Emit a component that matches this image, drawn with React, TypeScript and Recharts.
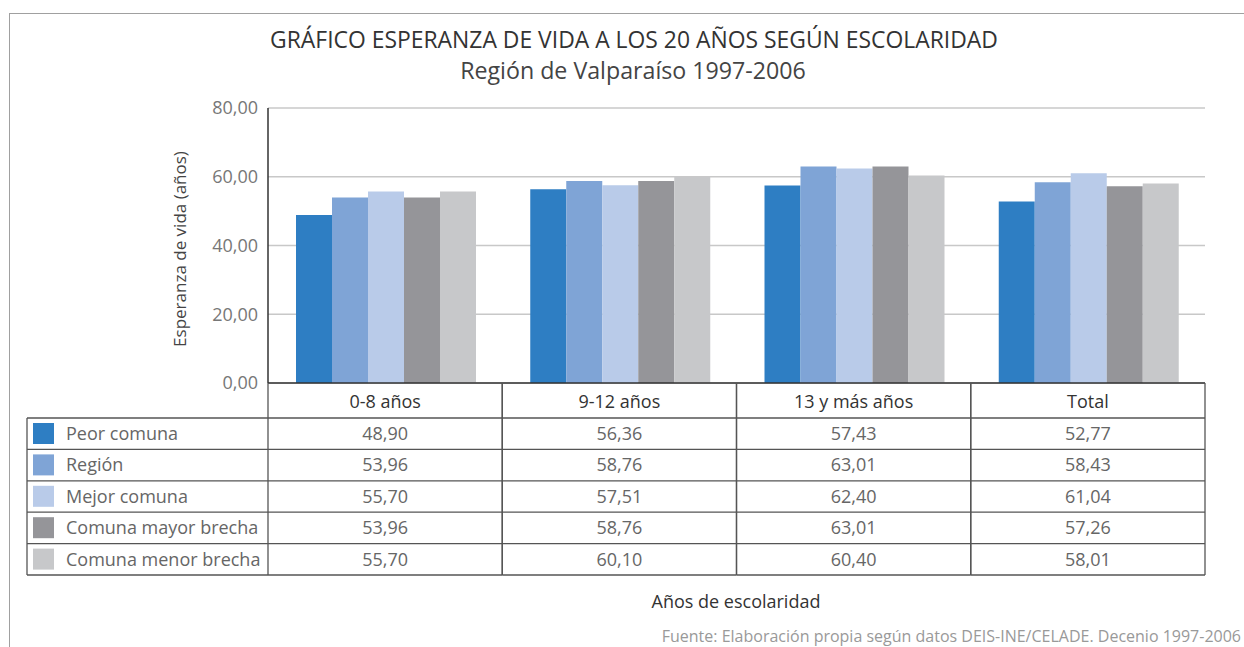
import React from 'react';
import { BarChart, Bar, XAxis, YAxis, CartesianGrid } from 'recharts';

// Datos (esperanza de vida a los 20 años)
const categories = ['0-8 años', '9-12 años', '13 y más años', 'Total'];
const peorComuna = [48.9, 56.36, 57.43, 52.77];
const region = [53.96, 58.76, 63.01, 58.43];
const mejorComuna = [55.7, 57.51, 62.4, 61.04];
const mayorBrecha = [53.96, 58.76, 63.01, 57.26];
const menorBrecha = [55.7, 60.1, 60.4, 58.01];
const yTicks = [0, 20, 40, 60, 80];

const series = [
  { key: 'peor', name: 'Peor comuna', values: peorComuna, color: '#2e7ec3' },
  { key: 'region', name: 'Región', values: region, color: '#7fa4d6' },
  { key: 'mejor', name: 'Mejor comuna', values: mejorComuna, color: '#b9cbe9' },
  { key: 'mayor', name: 'Comuna mayor brecha', values: mayorBrecha, color: '#959599' },
  { key: 'menor', name: 'Comuna menor brecha', values: menorBrecha, color: '#c7c8ca' },
];

const chartData = categories.map((cat, i) => {
  const row: any = { cat };
  series.forEach((s) => {
    row[s.key] = s.values[i];
  });
  return row;
});

const fmt = (v: number) => v.toFixed(2).replace('.', ',');

const HEADER_H = 35;
const ROW_H = 31.4;
const LEGEND_W = 241;
const LINE = '#555';

// Each x-axis tick draws its own column of the data table
const TableTick = (props: any) => {
  const { x, y, payload, index } = props;
  const half = payload.offset || 117;
  const left = x - half;
  const right = x + half;
  const bottom = y + HEADER_H + series.length * ROW_H;
  const ci = categories.indexOf(payload.value);

  return (
    <g>
      <line x1={left} y1={y} x2={left} y2={bottom} stroke={LINE} strokeWidth={1.3} />
      <line x1={right} y1={y} x2={right} y2={bottom} stroke={LINE} strokeWidth={1.3} />
      <text x={x} y={y + 25} textAnchor="middle" fontSize={18} fill="#333">
        {payload.value}
      </text>
      {series.map((s, i) => {
        const top = y + HEADER_H + i * ROW_H;
        return (
          <g key={s.key}>
            <line x1={left} y1={top} x2={right} y2={top} stroke={LINE} strokeWidth={1.3} />
            <text x={x} y={top + 22} textAnchor="middle" fontSize={18} fill="#666">
              {fmt(s.values[ci])}
            </text>
          </g>
        );
      })}
      <line x1={left} y1={bottom} x2={right} y2={bottom} stroke={LINE} strokeWidth={1.3} />
      {index === 0 && (
        <g>
          <line x1={left - LEGEND_W} y1={y + HEADER_H} x2={left - LEGEND_W} y2={bottom} stroke={LINE} strokeWidth={1.3} />
          {series.map((s, i) => {
            const top = y + HEADER_H + i * ROW_H;
            return (
              <g key={s.key}>
                <line x1={left - LEGEND_W} y1={top} x2={left} y2={top} stroke={LINE} strokeWidth={1.3} />
                <rect x={left - LEGEND_W + 6} y={top + 5} width={21} height={21} fill={s.color} />
                <text x={left - LEGEND_W + 39} y={top + 22} fontSize={18} fill="#666">
                  {s.name}
                </text>
              </g>
            );
          })}
          <line x1={left - LEGEND_W} y1={bottom} x2={left} y2={bottom} stroke={LINE} strokeWidth={1.3} />
        </g>
      )}
    </g>
  );
};

const App: React.FC = () => {
  return (
    <div
      style={{
        position: 'absolute',
        left: 0,
        top: 0,
        width: 1244,
        height: 647,
        background: '#fff',
        fontFamily: '"Open Sans", sans-serif',
      }}
    >
      <div
        style={{
          position: 'absolute',
          left: 9,
          top: 13,
          width: 1235,
          height: 634,
          borderTop: '1.5px solid #a0a0a0',
          borderLeft: '1.5px solid #a0a0a0',
        }}
      />
      <BarChart
        width={1244}
        height={647}
        data={chartData}
        margin={{ top: 108, right: 39, left: 208, bottom: 234 }}
        barCategoryGap={28}
        barGap={0}
      >
        <CartesianGrid vertical={false} stroke="#c8c8c8" strokeWidth={1.5} />
        <XAxis
          dataKey="cat"
          height={30}
          axisLine={{ stroke: '#333', strokeWidth: 1.5 }}
          tickLine={false}
          tickSize={0}
          tickMargin={0}
          interval={0}
          tick={<TableTick />}
        />
        <YAxis
          width={60}
          domain={[0, 80]}
          ticks={yTicks}
          tickFormatter={fmt}
          axisLine={{ stroke: '#333', strokeWidth: 1.5 }}
          tickLine={false}
          tickSize={0}
          tickMargin={10}
          tick={{ fontSize: 18, fill: '#777' }}
        />
        {series.map((s) => (
          <Bar key={s.key} dataKey={s.key} name={s.name} fill={s.color} isAnimationActive={false} />
        ))}
      </BarChart>
      <svg
        width={1244}
        height={647}
        style={{ position: 'absolute', left: 0, top: 0, pointerEvents: 'none' }}
      >
        <text x={634} y={48} textAnchor="middle" fontSize={22.9} fill="#333">
          GRÁFICO ESPERANZA DE VIDA A LOS 20 AÑOS SEGÚN ESCOLARIDAD
        </text>
        <text x={633} y={79} textAnchor="middle" fontSize={23.2} fill="#444">
          Región de Valparaíso 1997-2006
        </text>
        <text
          x={186}
          y={249}
          textAnchor="middle"
          fontSize={17}
          fill="#444"
          transform="rotate(-90 186 249)"
        >
          Esperanza de vida (años)
        </text>
        <text x={736} y={608} textAnchor="middle" fontSize={18} fill="#333">
          Años de escolaridad
        </text>
        <text x={1241} y={642} textAnchor="end" fontSize={16} fill="#999">
          Fuente: Elaboración propia según datos DEIS-INE/CELADE. Decenio 1997-2006
        </text>
      </svg>
    </div>
  );
};

export default App;
